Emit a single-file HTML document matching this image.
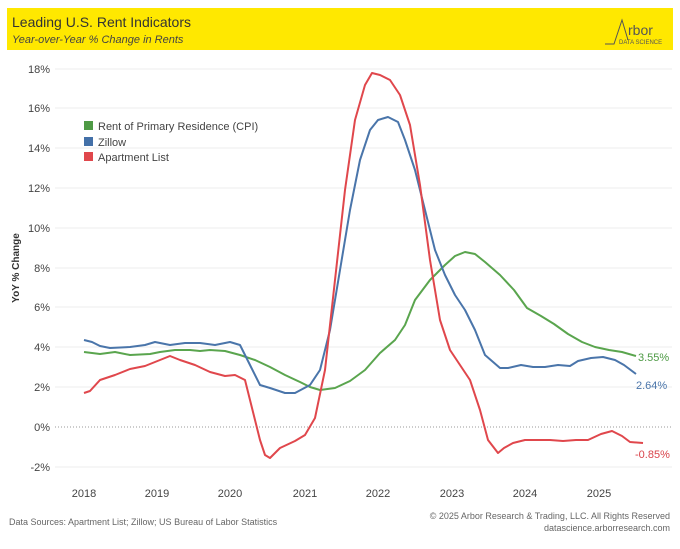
<!DOCTYPE html>
<html><head><meta charset="utf-8"><style>
body{margin:0;background:#fff;width:680px;height:544px;overflow:hidden;font-family:"Liberation Sans",sans-serif}
</style></head><body>
<svg width="680" height="544" xmlns="http://www.w3.org/2000/svg" font-family="Liberation Sans, sans-serif">
<rect x="7" y="8" width="666" height="42" fill="#ffe800"/>
<text x="12" y="27" font-size="14" fill="#333">Leading U.S. Rent Indicators</text>
<text x="12" y="43" font-size="11" font-style="italic" fill="#444">Year-over-Year % Change in Rents</text>
<path d="M605 44 L614 44 L622 20 L628 40" fill="none" stroke="#555" stroke-width="1"/>
<text x="628" y="35" font-size="14" fill="#555">rbor</text>
<text x="619" y="44" font-size="6" fill="#555">DATA SCIENCE</text>
<g stroke="#eee" stroke-width="1">
<line x1="55" x2="672" y1="69" y2="69"/><line x1="55" x2="672" y1="108" y2="108"/><line x1="55" x2="672" y1="148" y2="148"/><line x1="55" x2="672" y1="188" y2="188"/><line x1="55" x2="672" y1="228" y2="228"/><line x1="55" x2="672" y1="268" y2="268"/><line x1="55" x2="672" y1="307" y2="307"/><line x1="55" x2="672" y1="347" y2="347"/><line x1="55" x2="672" y1="387" y2="387"/><line x1="55" x2="672" y1="467" y2="467"/>
</g>
<line x1="55" x2="672" y1="427" y2="427" stroke="#999" stroke-dasharray="1,2"/>
<g font-size="11" fill="#444" text-anchor="end">
<text x="50" y="73">18%</text><text x="50" y="112">16%</text><text x="50" y="152">14%</text><text x="50" y="192">12%</text><text x="50" y="232">10%</text><text x="50" y="272">8%</text><text x="50" y="311">6%</text><text x="50" y="351">4%</text><text x="50" y="391">2%</text><text x="50" y="431">0%</text><text x="50" y="471">-2%</text>
</g>
<text transform="translate(19,268) rotate(-90)" font-size="10" font-weight="bold" fill="#333" text-anchor="middle">YoY % Change</text>
<g font-size="11" fill="#444" text-anchor="middle">
<text x="84" y="497">2018</text><text x="157" y="497">2019</text><text x="230" y="497">2020</text><text x="305" y="497">2021</text><text x="378" y="497">2022</text><text x="452" y="497">2023</text><text x="525" y="497">2024</text><text x="599" y="497">2025</text>
</g>
<rect x="84" y="121" width="9" height="9" fill="#4e9a45"/><rect x="84" y="137" width="9" height="9" fill="#4370a8"/><rect x="84" y="152" width="9" height="9" fill="#e0474c"/>
<g font-size="11" fill="#444"><text x="98" y="130">Rent of Primary Residence (CPI)</text><text x="98" y="146">Zillow</text><text x="98" y="161">Apartment List</text></g>
<g fill="none" stroke-width="2" stroke-linejoin="round">
<polyline stroke="#5aa54e" points="84,352 100,354 115,352 130,355 150,354 160,352 175,350 190,350 200,351 210,350 225,351 240,355 255,360 270,367 285,375 300,382 310,387 320,390 335,388 350,381 365,370 380,353 395,340 405,325 415,300 430,280 445,265 455,256 465,252 475,254 485,262 500,275 514,290 527,308 541,316 554,324 568,334 582,342 595,347 609,350 622,352 636,356"/>
<polyline stroke="#4a75aa" points="84,340 92,342 100,346 110,348 130,347 145,345 155,342 170,345 185,343 200,343 215,345 230,342 240,345 250,365 260,385 270,388 285,393 295,393 310,385 320,370 330,330 340,270 350,210 360,160 370,130 378,120 388,117 398,122 405,140 415,170 425,210 435,250 445,275 455,295 465,310 475,330 485,355 500,368 508,368 521,365 533,367 545,367 558,365 570,366 578,361 591,358 603,357 615,360 624,365 636,374"/>
<polyline stroke="#e0474c" points="84,393 90,391 100,380 115,375 130,369 145,366 160,360 170,356 180,360 195,365 210,372 225,376 235,375 245,380 250,400 260,440 265,455 270,458 280,448 295,441 305,435 315,418 325,370 335,280 345,190 355,120 365,85 372,73 380,75 390,80 400,95 410,125 420,185 430,260 440,320 450,350 460,365 470,380 480,410 488,440 498,453 504,448 513,443 525,440 538,440 550,440 563,441 576,440 588,440 601,434 612,431 622,436 630,442 643,443"/>
</g>
<g font-size="11"><text x="638" y="361" fill="#4e9a45">3.55%</text><text x="636" y="389" fill="#4a75aa">2.64%</text><text x="635" y="458" fill="#d9434a">-0.85%</text></g>
<text x="9" y="525" font-size="9" fill="#666">Data Sources: Apartment List; Zillow; US Bureau of Labor Statistics</text>
<text x="670" y="519" font-size="9" fill="#666" text-anchor="end">© 2025 Arbor Research &amp; Trading, LLC. All Rights Reserved</text>
<text x="670" y="531" font-size="9" fill="#666" text-anchor="end">datascience.arborresearch.com</text>
</svg>
</body></html>
